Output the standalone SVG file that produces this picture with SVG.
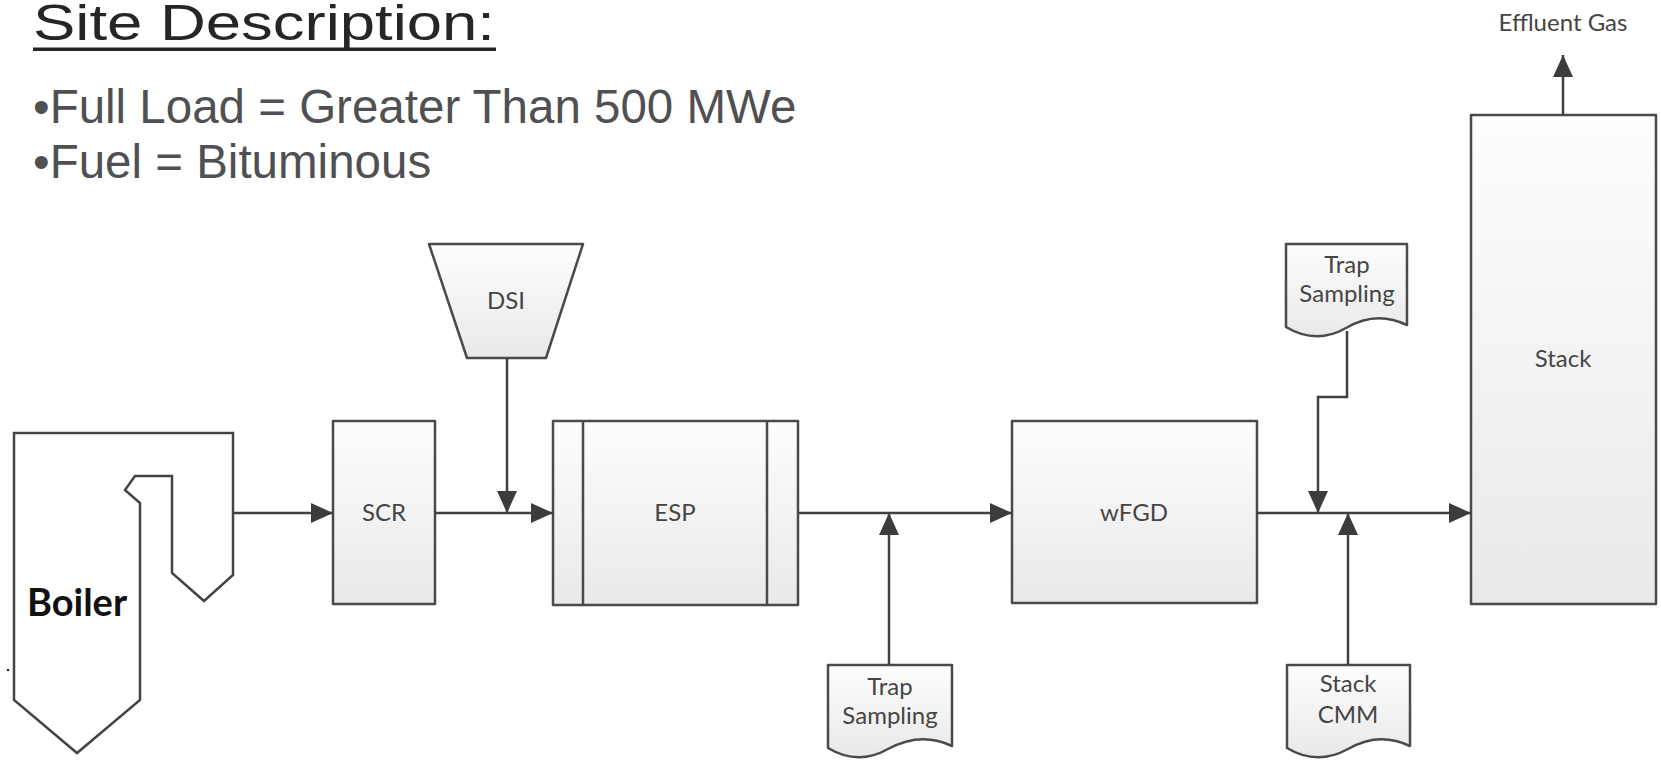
<svg xmlns="http://www.w3.org/2000/svg" width="1661" height="760" viewBox="0 0 1661 760">
<defs>
<linearGradient id="g" x1="0" y1="0" x2="0" y2="1">
<stop offset="0" stop-color="#fdfdfd"/>
<stop offset="1" stop-color="#e9e9e9"/>
</linearGradient>
<marker id="ah" markerWidth="22" markerHeight="20" refX="22" refY="10" orient="auto" markerUnits="userSpaceOnUse">
<path d="M0,0 L22,10 L0,20 Z" fill="#3c3c3c"/>
</marker>
<style>
.shape{fill:url(#g);stroke:#4a4a4a;stroke-width:2.5;stroke-linejoin:round}
.lbl{font-family:Lato,"Open Sans",sans-serif;font-size:24px;fill:#454545;text-anchor:middle}
.con{fill:none;stroke:#404040;stroke-width:2.5;marker-end:url(#ah)}
.hdr{font-family:"Liberation Sans",Arial,sans-serif}
</style>
</defs>
<rect width="1661" height="760" fill="#ffffff"/>

<g id="header">
<text class="hdr" x="33" y="40" font-size="50" fill="#262626" textLength="462" lengthAdjust="spacingAndGlyphs">Site Description:</text>
<rect x="33" y="47.5" width="463" height="3.5" fill="#262626"/>
<text class="hdr" x="33" y="123" font-size="47.5" fill="#505052">•Full Load = Greater Than 500 MWe</text>
<text class="hdr" x="33" y="178" font-size="47.5" fill="#505052">•Fuel = Bituminous</text>
</g>

<g id="boiler">
<path d="M14,433 H233 V575 L204,601 L172,573 V476 H135 L125,490 L140,503 V700 L77,753 L14,700 Z" fill="#ffffff" stroke="#444" stroke-width="2.5" stroke-linejoin="miter"/>
<text x="77" y="616" font-family="Lato,'Open Sans',sans-serif" font-weight="bold" font-size="38" fill="#111" text-anchor="middle">Boiler</text>
<circle cx="8" cy="670" r="1.3" fill="#333"/>
</g>

<g id="scr">
<rect class="shape" x="333" y="421" width="102" height="183"/>
<text class="lbl" x="384" y="521">SCR</text>
</g>

<g id="dsi">
<path class="shape" d="M429,244 H583 L546,358 H467 Z"/>
<text class="lbl" x="506" y="309">DSI</text>
</g>

<g id="esp">
<rect class="shape" x="553" y="421" width="245" height="184"/>
<line x1="583" y1="421" x2="583" y2="605" stroke="#4a4a4a" stroke-width="2.5"/>
<line x1="767" y1="421" x2="767" y2="605" stroke="#4a4a4a" stroke-width="2.5"/>
<text class="lbl" x="675" y="521">ESP</text>
</g>

<g id="wfgd">
<rect class="shape" x="1012" y="421" width="245" height="182"/>
<text class="lbl" x="1134" y="521">wFGD</text>
</g>

<g id="stack">
<rect class="shape" x="1471" y="115" width="185" height="489"/>
<text class="lbl" x="1563" y="367">Stack</text>
</g>

<g id="effluent">
<text class="lbl" x="1563" y="31">Effluent Gas</text>
</g>

<g id="trap1">
<path class="shape" d="M828,665 H952 V746 Q921,731 888,749 Q858,766 828,748 Z"/>
<text class="lbl" x="890" y="695">Trap</text>
<text class="lbl" x="890" y="724">Sampling</text>
</g>

<g id="trap2">
<path class="shape" d="M1286,244 H1407 V325 Q1376,310 1346,328 Q1316,345 1286,327 Z"/>
<text class="lbl" x="1347" y="273">Trap</text>
<text class="lbl" x="1347" y="302">Sampling</text>
</g>

<g id="cmm">
<path class="shape" d="M1287,665 H1410 V746 Q1379,731 1348,749 Q1317,766 1287,748 Z"/>
<text class="lbl" x="1348" y="692">Stack</text>
<text class="lbl" x="1348" y="723">CMM</text>
</g>

<g id="connectors">
<line class="con" x1="234" y1="513" x2="333" y2="513"/>
<line class="con" x1="435" y1="513" x2="553" y2="513"/>
<line class="con" x1="507" y1="358" x2="507" y2="513"/>
<line class="con" x1="798" y1="513" x2="1012" y2="513"/>
<line class="con" x1="889" y1="665" x2="889" y2="513"/>
<line class="con" x1="1257" y1="513" x2="1471" y2="513"/>
<polyline class="con" points="1347,331 1347,397 1318,397 1318,513"/>
<line class="con" x1="1348" y1="665" x2="1348" y2="513"/>
<line class="con" x1="1563" y1="115" x2="1563" y2="55"/>
</g>
</svg>
